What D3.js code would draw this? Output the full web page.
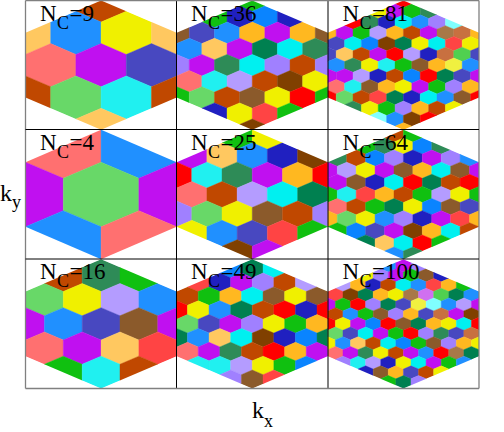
<!DOCTYPE html>
<html><head><meta charset="utf-8">
<script src="https://cdnjs.cloudflare.com/ajax/libs/d3/7.8.5/d3.min.js"></script>
<style>html,body{margin:0;padding:0;background:#fff}svg{display:block}text{font-family:"Liberation Serif",serif;fill:#000}</style>
</head><body><div id="c"></div>
<script>
const colorKeys = "asbpoByicCLlgrRdeDnOwWtTYqPG".split("");
const colorValues = ["#68d868","#ff7070","#2090ff","#c010f0","#ffc860","#c04800","#f0f000","#4848c0","#20f0f0","#00f0f0","#b49cff","#a080ff","#10c010","#ff0000","#ff4444","#008050","#2e8b57","#2020c0","#0a84ff","#ffb820","#804000","#8b5a2b","#c87040","#a87848","#f0f040","#80ffff","#d070f0","#50d050"];

const panelCounts = [9, 36, 81, 4, 25, 64, 16, 49, 100];

const cells9 = ["B","obyo","spi","BacB","o"];
const cells36 = ["g","gDnD","WibOpOW","bopdCe","lpeClBl","scLBwy","gaBWyrg","DyRg","w"];
const cells81 = ["r","ypge","reDCblq","OpgLOBpTtO","iCnwdyCRy","ioBprLDtGi","beycgWOYb","ppLDBnrdip","scWOypglO","raBRdDCbWr","eyglOBy","qbwr","O"];
const cells4 = ["sb","pap","bs"];
const cells25 = ["gy","pobDw","rcepOr","sBLCd","layWBl","ybiRg","wp"];
const cells64 = ["Bg","geyne","eBnlDplb","pLypWOCWp","pWDCrdBr","gcROBgLyg","sBgdynWi","OayblDpRO","gnipwOCB","doCrg","be"];
const cells16 = ["Beg","ayLb","pbiWp","spoR","gcB"];
const cells49 = ["ndC","RDplBL","BgOCWyW","rybdBrDr","aiplygO","dboCwDnd","speBrOp","ccLygn","lWR"];
const cells100 = ["bpl","ylpgWD","LODBCbROg","RwdOyTPGdb","pgrldiYqbLp","BbgWlOitpw","rypnrWdOyCr","aiCpgrleit","yboBCngWlOy","speyBpbrTd","lcLDyCpgb","DWOiBy","gdl"];
const panelCells = [cells9, cells36, cells81, cells4, cells25, cells64, cells16, cells49, cells100];

const xLabel = "k", xSub = "x", yLabel = "k", ySub = "y", labelPrefix = "N", labelSub = "C";

const width = 504, height = 432;
const color = d3.scaleOrdinal(colorKeys, colorValues);
const col = d3.scaleBand([0,1,2], [25.5, 479]);
const row = d3.scaleBand([0,1,2], [0.5, 388.5]);

const svg = d3.select("#c").append("svg").attr("width", width).attr("height", height);
const defs = svg.append("defs");
const hexShape = [[0,-0.5],[0.5,-0.25],[0.5,0.25],[0,0.5],[-0.5,0.25],[-0.5,-0.25]];

panelCounts.forEach((count, p) => {
  const r = Math.floor(p / 3), c = p % 3;
  const x0 = col(c), y0 = row(r), bw = col.bandwidth(), bh = row.bandwidth();
  const kx = d3.scaleLinear([-0.5, 0.5], [x0, x0 + bw]);
  const ky = d3.scaleLinear([-0.5, 0.5], [y0, y0 + bh]);
  const line = d3.line().x(d => kx(d[0])).y(d => ky(d[1])).curve(d3.curveLinearClosed);
  const n = Math.round(Math.sqrt(count));
  const id = "bz" + count;
  defs.append("clipPath").attr("id", id).append("path").attr("d", line(hexShape));

  const rows = panelCells[p];
  const cells = [];
  rows.forEach((s, i) => {
    const j = i - (rows.length - 1) / 2;
    s.split("").forEach((key, m) => {
      cells.push({key, k: m - (s.length - 1) / 2, j});
    });
  });
  const g = svg.append("g").attr("clip-path", `url(#${id})`);
  g.selectAll("path").data(cells).join("path")
    .attr("d", d => line(hexShape.map(v => [d.k / n + v[0] / n, d.j * 0.75 / n + v[1] / n])))
    .attr("fill", d => color(d.key))
    .attr("stroke", d => color(d.key))
    .attr("stroke-width", 0.4);
});

// frame
const colEdges = [25.5, 176.5, 328, 479];
const rowEdges = [0.5, 129.5, 259, 388.5];
svg.append("g").selectAll("line").data(colEdges).join("line")
  .attr("x1", d => d).attr("x2", d => d).attr("y1", rowEdges[0]).attr("y2", rowEdges[3])
  .attr("stroke", (d, i) => (i === 0 || i === 3) ? "#808080" : "#000").attr("stroke-width", (d, i) => (i === 0 || i === 3) ? 1.3 : 1);
svg.append("g").selectAll("line").data(rowEdges).join("line")
  .attr("y1", d => d).attr("y2", d => d).attr("x1", colEdges[0]).attr("x2", colEdges[3])
  .attr("stroke", (d, i) => (i === 0 || i === 3) ? "#808080" : "#000").attr("stroke-width", (d, i) => (i === 0 || i === 3) ? 1.3 : 1);

// panel labels
panelCounts.forEach((count, p) => {
  const r = Math.floor(p / 3), c = p % 3;
  const x = colEdges[c] + 14.5, y = rowEdges[r] + 20.2;
  const g = svg.append("g");
  g.append("text").attr("x", x).attr("y", y).attr("font-size", 23).text(labelPrefix);
  g.append("text").attr("x", x + 17).attr("y", y + 8).attr("font-size", 18).text(labelSub);
  g.append("text").attr("x", x + 29.5).attr("y", y).attr("font-size", 23).text("=" + count);
});

// axis titles
svg.append("text").attr("x", 0).attr("y", 201).attr("font-size", 24).text(yLabel);
svg.append("text").attr("x", 12).attr("y", 208).attr("font-size", 18).text(ySub);
svg.append("text").attr("x", 252).attr("y", 418).attr("font-size", 24).text(xLabel);
svg.append("text").attr("x", 264).attr("y", 427).attr("font-size", 18).text(xSub);
</script></body></html>
